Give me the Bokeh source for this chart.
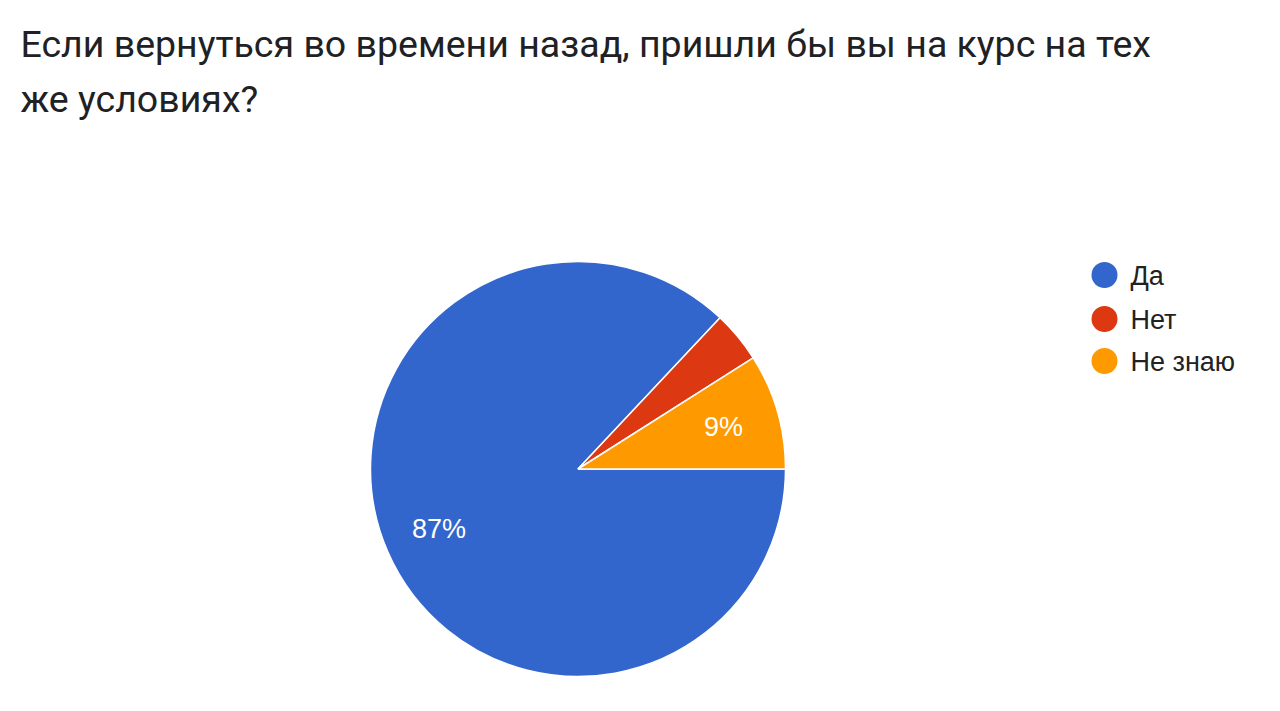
import math
from bokeh.plotting import figure
from bokeh.models import Range1d, ColumnDataSource
from bokeh.core.properties import value
from bokeh.embed import file_html
from bokeh.resources import INLINE

# ---- data ----
title_lines = ["Если вернуться во времени назад, пришли бы вы на курс на тех",
               "же условиях?"]
categories = ["Да", "Нет", "Не знаю"]
percents = [87, 4, 9]
colors = ["#3366CC", "#DC3912", "#FF9900"]

W, H = 1264, 695

def X(px):
    return px

def Y(py):
    return H - py

p = figure(width=W, height=H, output_backend="svg", toolbar_location=None,
           x_range=Range1d(0, W), y_range=Range1d(0, H),
           min_border=0, outline_line_color=None, background_fill_color="white",
           border_fill_color="white")
p.axis.visible = False
p.grid.visible = False

cx, cy, r = X(577.5), Y(468.5), 207.5
total = float(sum(percents))
starts, ends, mids = [], [], []
acc = 0.0
for v in percents:
    s = acc / total
    acc += v
    e = acc / total
    starts.append(-s * 2 * math.pi)
    ends.append(-e * 2 * math.pi)
    mids.append(-(s + e) / 2 * 2 * math.pi)

src = ColumnDataSource(dict(cat=categories, val=percents, color=colors,
                            start=starts, end=ends))
p.wedge(x=cx, y=cy, radius=r, start_angle="start", end_angle="end",
        direction="clock", fill_color="color", line_color="white",
        line_width=1.5, source=src)

# percentage labels (only on slices large enough)
lx, ly, lt = [], [], []
for v, m in zip(percents, mids):
    if v >= 5:
        lx.append(cx + 0.73 * r * math.cos(m))
        ly.append(cy + 0.73 * r * math.sin(m))
        lt.append(f"{v}%")
p.text(x=lx, y=ly, text=lt, text_color="white", text_font=value("Liberation Sans"),
       text_font_size="27px", text_align="center", text_baseline="middle")

# legend
leg_mid = [274.5, 318.5, 360.5]
p.scatter(x=[X(1104)] * 3, y=[Y(m) for m in leg_mid], size=26,
          fill_color=colors, line_color=None, marker="circle")
p.text(x=[X(1130)] * 3, y=[Y(m + 1) for m in leg_mid], text=categories,
       text_color="#222222", text_font=value("Liberation Sans"),
       text_font_size="27px", text_align="left", text_baseline="middle")

# title
p.text(x=[X(20)] * 2, y=[Y(43), Y(98)], text=title_lines,
       text_color="#202124", text_font=value("Roboto"),
       text_font_size="37.5px", text_align="left", text_baseline="middle")

open("out.html", "w").write(file_html(p, INLINE))
